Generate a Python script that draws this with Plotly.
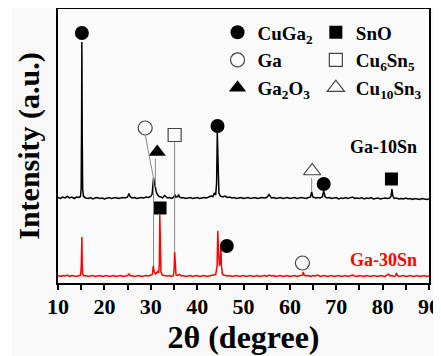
import plotly.graph_objects as go

# ---------------- data ----------------
two_theta_10sn = [10.0,10.5,11.0,11.5,12.0,12.5,13.0,13.5,14.0,14.5,14.85,15.0,15.08,15.15,15.22,15.32,15.5,16.0,16.5,17.0,17.5,18.0,18.5,19.0,19.5,20.0,20.5,21.0,21.5,22.0,22.5,23.0,23.5,24.0,24.5,25.0,25.3,25.6,26.0,26.5,27.0,27.5,28.0,28.5,29.0,29.5,30.0,30.3,30.45,30.6,30.75,30.95,31.2,31.5,31.8,32.2,32.5,33.0,33.3,33.6,34.0,34.5,35.0,35.2,35.4,35.8,36.0,36.2,36.6,37.0,37.5,38.0,38.5,39.0,39.5,40.0,40.5,41.0,41.5,42.0,42.5,43.0,43.4,43.7,44.0,44.2,44.35,44.5,44.7,45.0,45.5,46.0,46.5,47.0,47.5,48.0,48.5,49.0,49.5,50.0,50.5,51.0,51.5,52.0,52.5,53.0,53.5,54.0,54.5,55.0,55.5,55.8,56.0,56.5,57.0,57.5,58.0,58.5,59.0,59.5,60.0,60.5,61.0,61.5,62.0,62.5,63.0,63.5,64.0,64.45,64.7,64.95,65.5,66.0,66.5,67.0,67.3,67.6,68.0,68.5,69.0,69.5,70.0,70.5,71.0,71.5,72.0,72.5,73.0,73.5,74.0,74.5,75.0,75.5,76.0,76.5,77.0,77.5,78.0,78.5,79.0,79.5,80.0,80.5,81.0,81.5,81.8,82.0,82.2,82.5,83.0,83.5,84.0,84.5,85.0,85.5,86.0,86.5,87.0,87.5,88.0,88.5,89.0,89.5,90.0]
intensity_10sn = [0.5,-0.5,1.0,0.0,1.5,0.0,1.0,-0.5,1.0,0.5,1.5,10,70,156,65,9,1.5,0.0,-0.5,0.5,-1.0,0.0,0.5,-0.5,0.0,-1.0,0.0,0.5,-0.5,0.0,0.5,-0.5,0.0,0.5,0.0,1.0,4.5,1.0,0.0,0.5,-0.5,0.0,0.5,0.0,1.0,0.5,1.5,4.0,12,20,16,11,6,3,1.5,1.0,0.0,2.5,1.0,0.0,0.5,-0.5,1.0,3.5,1.0,1.5,3.5,1.0,0.0,0.5,-0.5,0.0,0.5,-0.5,0.0,0.5,-0.5,0.0,0.5,0.0,1.0,2.0,1.5,5.0,3.0,15,65,28,5,2.0,1.0,2.0,0.5,1.0,0.0,0.5,-0.5,0.0,0.5,-0.5,0.0,0.5,-0.5,0.0,0.5,-0.5,0.0,0.5,0.0,0.5,3.5,0.5,0.0,0.5,-0.5,0.0,0.5,-0.5,0.0,0.5,-0.5,0.0,0.5,-0.5,0.0,0.5,0.0,-0.5,0.5,1.0,6.0,1.0,0.0,0.5,0.0,1.0,7.0,1.0,0.0,0.5,-0.5,0.0,0.5,-1.0,0.0,-0.5,0.5,-0.5,0.0,1.0,-0.5,0.0,-0.5,0.5,-1.0,0.0,-0.5,0.5,-1.0,-0.5,0.0,-1.0,-0.5,0.0,-0.5,0.0,1.5,9.0,2.0,-0.5,0.0,-1.0,-0.5,-1.0,0.0,-1.0,-0.5,-1.5,-0.5,-1.0,-1.5,-0.5,-1.0,-1.5,-1.0]

two_theta_30sn = [10.0,10.5,11.0,11.5,12.0,12.5,13.0,13.5,14.0,14.5,14.85,15.0,15.08,15.15,15.22,15.32,15.6,16.0,16.5,17.0,17.5,18.0,18.5,19.0,19.5,20.0,20.5,21.0,21.5,22.0,22.5,23.0,23.5,24.0,24.5,25.0,25.3,25.6,26.0,26.5,27.0,27.5,28.0,28.5,29.0,29.5,30.0,30.35,30.55,30.75,31.0,31.3,31.5,31.7,31.85,31.95,32.05,32.2,32.5,33.0,33.5,34.0,34.5,34.9,35.05,35.15,35.25,35.45,35.8,36.2,36.6,37.0,37.5,38.0,38.5,39.0,39.5,40.0,40.5,41.0,41.5,42.0,42.5,43.0,43.5,44.0,44.3,44.45,44.6,44.8,45.0,45.12,45.25,45.45,45.7,46.0,46.5,47.0,47.5,48.0,48.5,49.0,49.5,50.0,50.5,51.0,51.5,52.0,52.5,53.0,53.5,54.0,54.5,55.0,55.5,56.0,56.5,57.0,57.5,58.0,58.5,59.0,59.5,60.0,60.5,61.0,61.5,62.0,62.5,62.75,62.9,63.05,63.5,64.0,64.5,65.0,65.5,66.0,66.5,67.0,67.5,68.0,68.5,69.0,69.5,70.0,70.5,71.0,71.5,72.0,72.5,73.0,73.5,74.0,74.5,75.0,75.5,76.0,76.5,77.0,77.5,78.0,78.5,79.0,79.5,80.0,80.5,81.0,81.3,81.6,82.0,82.5,82.8,83.0,83.2,83.5,84.0,84.5,85.0,85.5,86.0,86.5,87.0,87.5,88.0,88.5,89.0,89.5,90.0]
intensity_30sn = [0.5,-0.5,0.5,0.0,1.0,-0.5,0.5,0.0,-0.5,0.5,0.5,8,30,39,12,2,0.0,0.5,-0.5,0.0,0.5,-0.5,0.0,0.5,-0.5,0.0,0.5,-0.5,0.0,0.5,-0.5,0.0,0.5,-0.5,0.0,0.5,2.0,0.0,0.5,-0.5,0.0,0.5,-0.5,0.0,0.5,0.0,0.5,1.5,10,4,2.0,3.0,4.5,3.0,12,61,30,4,1.0,0.5,0.0,0.5,-0.5,0.5,8,24,8,1.0,0.5,1.5,0.0,0.5,-0.5,0.0,0.5,-0.5,0.0,0.5,-0.5,0.0,0.5,-0.5,0.0,0.5,0.5,1.5,10,45,25,10,14,30,10,2,1.0,0.5,0.0,0.5,-0.5,0.0,0.5,-0.5,0.0,0.5,-0.5,0.0,0.5,-0.5,0.0,0.5,-0.5,0.0,0.5,-0.5,1.0,0.0,0.5,-0.5,0.0,0.5,-0.5,0.0,0.5,-0.5,0.0,0.5,-0.5,0.0,0.5,1.0,4.0,1.0,0.0,0.5,-0.5,0.5,0.0,1.0,-0.5,0.0,0.5,-0.5,0.0,0.5,-0.5,0.0,0.5,-0.5,0.0,0.5,-0.5,0.0,1.0,0.0,-0.5,0.5,0.0,-0.5,0.5,0.0,-0.5,0.5,0.0,-0.5,0.5,0.0,-0.5,1.0,2.0,0.0,0.5,-0.5,0.5,3.0,0.5,-0.5,0.0,0.5,-0.5,0.0,0.5,-0.5,0.0,0.5,-0.5,0.0,0.5,-0.5,0.0]

offset_10sn = 85
offset_30sn = 7

# phase marker positions (2theta, stacked intensity)
cuga2_x = [15.15, 44.4, 67.3, 46.4]
cuga2_y = [250, 157, 99, 37]
ga_x = [28.8, 62.7]
ga_y = [155, 20]
ga2o3_x = [31.4]
ga2o3_y = [131]
sno_x = [32.0, 81.9]
sno_y = [75, 104]
cu6sn5_x = [35.15]
cu6sn5_y = [148]
cu10sn3_x = [64.8]
cu10sn3_y = [112]

# guide lines: (x0, y0, x1, y1)
guide_lines = [
    (28.8, 148, 30.6, 105),
    (30.6, 105, 30.6, 17),
    (31.0, 124, 31.0, 96),
    (35.15, 141, 35.15, 31),
    (64.7, 105, 64.7, 91),
]

x_ticks = [10, 20, 30, 40, 50, 60, 70, 80, 90]

SERIF = "Liberation Serif, Times New Roman, serif"

fig = go.Figure()
fig.add_trace(go.Scatter(
    x=two_theta_10sn, y=[v + offset_10sn for v in intensity_10sn],
    mode="lines", line=dict(color="black", width=1.5), showlegend=False))
fig.add_trace(go.Scatter(
    x=two_theta_30sn, y=[v + offset_30sn for v in intensity_30sn],
    mode="lines", line=dict(color="#ff0000", width=1.5), showlegend=False))

for (x0, y0, x1, y1) in guide_lines:
    fig.add_shape(type="line", x0=x0, y0=y0, x1=x1, y1=y1, xref="x", yref="y",
                  line=dict(color="#8a8a8a", width=1))

def phase(name, xs, ys, symbol, size, legend, filled=True):
    if filled:
        marker = dict(symbol=symbol, size=size, color="black", line=dict(width=0))
    else:
        marker = dict(symbol=symbol, size=size, color="#444444", line=dict(color="#444444", width=1.2))
    fig.add_trace(go.Scatter(x=xs, y=ys, mode="markers", name=name, marker=marker,
                             legend=legend, cliponaxis=False))

phase("CuGa<sub>2</sub>", cuga2_x, cuga2_y, "circle", 14, "legend")
phase("Ga", ga_x, ga_y, "circle-open", 14, "legend", filled=False)
phase("Ga<sub>2</sub>O<sub>3</sub>", ga2o3_x, ga2o3_y, "triangle-up", 15, "legend")
phase("SnO", sno_x, sno_y, "square", 13, "legend2")
phase("Cu<sub>6</sub>Sn<sub>5</sub>", cu6sn5_x, cu6sn5_y, "square-open", 13, "legend2", filled=False)
phase("Cu<sub>10</sub>Sn<sub>3</sub>", cu10sn3_x, cu10sn3_y, "triangle-up-open", 15, "legend2", filled=False)

legend_font = dict(family=SERIF, size=19, color="black", weight="bold")
# page body has an 8px margin, so the figure is 8px smaller and margins compensate
fig.update_layout(
    width=433, height=348,
    margin=dict(l=50, r=12, t=1, b=73, autoexpand=False),
    paper_bgcolor="#f9f9f9", plot_bgcolor="#fbfbfb",
    legend=dict(x=0.43, y=0.984, xanchor="left", yanchor="top", bgcolor="rgba(0,0,0,0)",
                font=legend_font, tracegroupgap=0),
    legend2=dict(x=0.695, y=0.984, xanchor="left", yanchor="top", bgcolor="rgba(0,0,0,0)",
                 font=legend_font, tracegroupgap=0),
    xaxis=dict(range=[10, 90], tickvals=x_ticks, ticks="outside", ticklen=5, tickwidth=2,
               tickcolor="black", showline=True, linewidth=2, linecolor="black", mirror=True,
               showgrid=False, zeroline=False, automargin=False, ticklabelstandoff=-2,
               minor=dict(dtick=5, tick0=10, ticks="outside", ticklen=5, tickwidth=2, tickcolor="black"),
               tickfont=dict(family=SERIF, size=22, color="black", weight="bold"),
               title=dict(text="2θ (degree)", font=dict(family=SERIF, size=32, color="black", weight="bold"),
                          standoff=4)),
    yaxis=dict(range=[0, 274], showticklabels=False, ticks="", showline=True, linewidth=2,
               linecolor="black", mirror=True, showgrid=False, zeroline=False, automargin=False,
               title=dict(text="Intensity (a.u.)", font=dict(family=SERIF, size=30, color="black", weight="bold"),
                          standoff=8)),
    annotations=[
        dict(x=80.1, y=136, xref="x", yref="y", text="Ga-10Sn", showarrow=False,
             font=dict(family=SERIF, size=18, color="black", weight="bold")),
        dict(x=80.1, y=23, xref="x", yref="y", text="Ga-30Sn", showarrow=False,
             font=dict(family=SERIF, size=18, color="#ff0000", weight="bold")),
    ],
)
# white outer strip on the left seen in the reference
fig.add_shape(type="rect", xref="paper", yref="paper", x0=-1, x1=(12 - 58) / 371, y0=-1, y1=2,
              fillcolor="white", line=dict(width=0), layer="below")

fig.write_html("out.html")
